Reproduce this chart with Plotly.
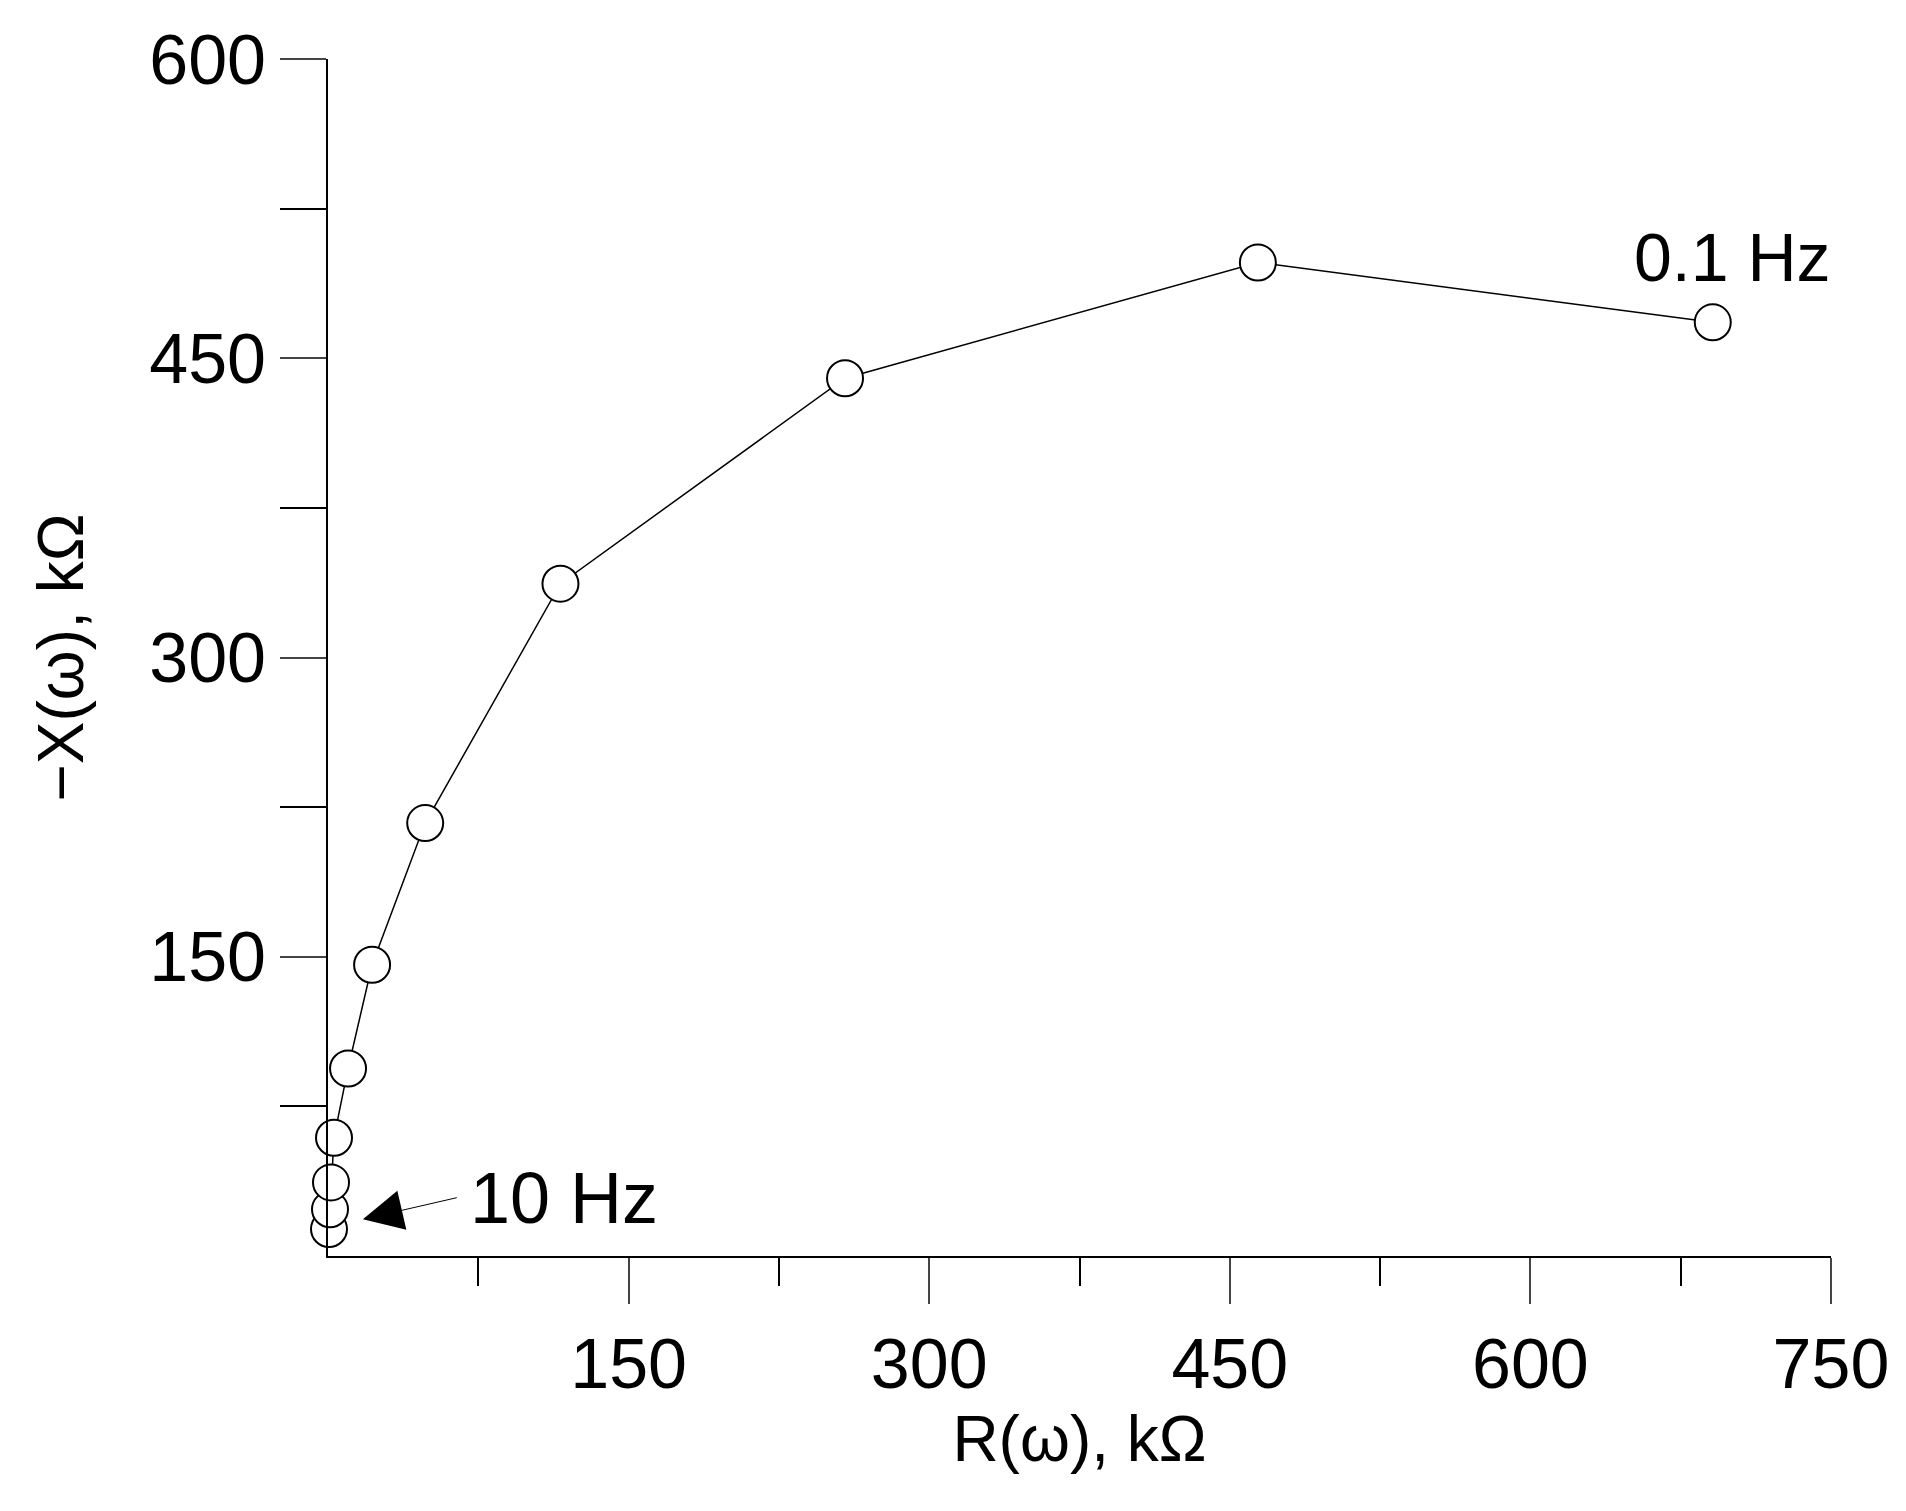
import plotly.graph_objects as go

# impedance data
r_kohm = [0.5, 1.0, 1.5, 3.0, 10, 22, 48.5, 116, 258, 464, 691]
x_kohm = [13.5, 23.4, 36.9, 59.3, 94, 146, 217, 337, 440, 498, 468]

x_ticks = [150, 300, 450, 600, 750]
y_ticks = [150, 300, 450, 600]

font = "Liberation Sans, Arial, sans-serif"

fig = go.Figure()
fig.add_trace(go.Scatter(
    x=r_kohm, y=x_kohm, mode="lines+markers", cliponaxis=False,
    line=dict(color="black", width=1.5),
    marker=dict(size=36, color="white", line=dict(color="black", width=2)),
))

fig.add_annotation(x=701, y=501, text="0.1 Hz", showarrow=False,
                   font=dict(size=68, color="black", family=font))
fig.add_annotation(x=118, y=29, text="10 Hz", showarrow=False,
                   font=dict(size=72, color="black", family=font))
fig.add_annotation(x=17.4, y=18.4, ax=65, ay=29.4, axref="x", ayref="y",
                   text="", showarrow=True, arrowhead=2, arrowsize=8,
                   arrowwidth=1, arrowcolor="black")

fig.update_layout(
    width=1906, height=1511,
    margin=dict(l=320, r=83, t=45, b=263),
    plot_bgcolor="white", paper_bgcolor="white",
    showlegend=False,
    font=dict(family=font, size=64, color="black"),
)
fig.update_xaxes(
    range=[0, 750], tickvals=x_ticks, ticks="outside", ticklen=46, tickwidth=2,
    showline=True, linecolor="black", linewidth=2, showgrid=False, zeroline=False,
    minor=dict(tickvals=[75, 225, 375, 525, 675], ticks="outside", ticklen=28,
               tickwidth=2, tickcolor="black"),
    tickfont=dict(size=70), title=dict(text="R(ω), kΩ", font=dict(size=64), standoff=0),
)
fig.update_yaxes(
    range=[0, 600], tickvals=y_ticks, ticks="outside", ticklen=46, tickwidth=2,
    showline=True, linecolor="black", linewidth=2, showgrid=False, zeroline=False,
    minor=dict(tickvals=[75, 225, 375, 525], ticks="outside", ticklen=46,
               tickwidth=2, tickcolor="black"),
    tickfont=dict(size=70), title=dict(text="−X(ω), kΩ", font=dict(size=64), standoff=45),
)

fig.write_html("out.html")
